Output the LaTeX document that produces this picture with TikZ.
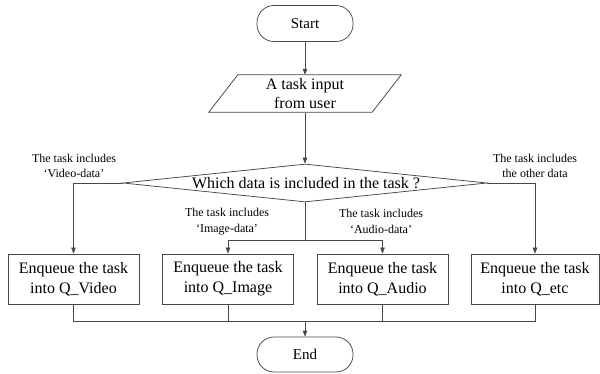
\documentclass[tikz,border=0pt]{standalone}
\usepackage{fontspec}
\setmainfont{Liberation Serif}
\usetikzlibrary{shapes.geometric,arrows.meta}
\begin{document}
\begin{tikzpicture}[x=1pt,y=1pt,
  ln/.style={draw=black!72,line width=0.75pt},
  arr/.style={ln,-{Triangle[length=6pt,width=4.5pt]}},
  term/.style={ln,rounded corners=17pt,minimum width=96pt,minimum height=36pt,inner sep=0pt,font=\fontsize{15}{18}\selectfont},
  proc/.style={ln,minimum width=131pt,minimum height=50pt,inner sep=0pt,align=center,font=\fontsize{16}{20}\selectfont},
  lbl/.style={align=center,inner sep=0pt,font=\fontsize{12}{15.5}\selectfont}]
\useasboundingbox (0,0) rectangle (600,-374);
\node[term] (start) at (305,-23.5) {Start};
\node[minimum width=163pt,minimum height=37pt,inner sep=0pt,align=center,font=\fontsize{16}{19}\selectfont] (inp) at (305,-93.5) {A task input\\from user};
\draw[ln] ([xshift=14.5pt]inp.north west) -- ([xshift=14.5pt]inp.north east) -- ([xshift=-14.5pt]inp.south east) -- ([xshift=-14.5pt]inp.south west) -- cycle;
\node[ln,diamond,minimum width=364pt,minimum height=38pt,inner sep=0pt] (dec) at (305,-183) {};
\node[font=\fontsize{16}{19}\selectfont,inner sep=0pt] (dtxt) at (306,-183) {Which data is included in the task ?};
\node[proc] (vid) at (73.5,-279) {Enqueue the task\\into Q\_Video};
\node[proc] (img) at (228,-279) {Enqueue the task\\into Q\_Image};
\node[proc] (aud) at (382.5,-279) {Enqueue the task\\into Q\_Audio};
\node[proc,minimum width=128pt] (etc) at (535,-279) {Enqueue the task\\into Q\_etc};
\node[term,minimum height=35pt] (end) at (305,-354.5) {End};
\node[lbl] (lv) at (74,-166) {The task includes\\‘Video-data’};
\node[lbl] (li) at (227,-221.5) {The task includes\\‘Image-data’};
\node[lbl] (la) at (381,-221.5) {The task includes\\‘Audio-data’};
\node[lbl] (lo) at (535,-166) {The task includes\\the other data};
\coordinate (split) at (305,-240);
\coordinate (merge) at (305,-321);
\draw[arr] (start) -- (inp);
\draw[arr] ([yshift=-0.5pt]inp.south) -- (dec.north);
\draw[arr] (dec.west) -| (vid.north);
\draw[arr] (dec.east) -| (etc.north);
\draw[ln] (dec.south) -- (split);
\draw[arr] (split) -| (img.north);
\draw[arr] (split) -| (aud.north);
\draw[ln] (vid.south) |- (merge);
\draw[ln] (etc.south) |- (merge);
\draw[ln] (img.south) |- (merge);
\draw[ln] (aud.south) |- (merge);
\draw[arr] (merge) -- (end.north);
\end{tikzpicture}
\end{document}
